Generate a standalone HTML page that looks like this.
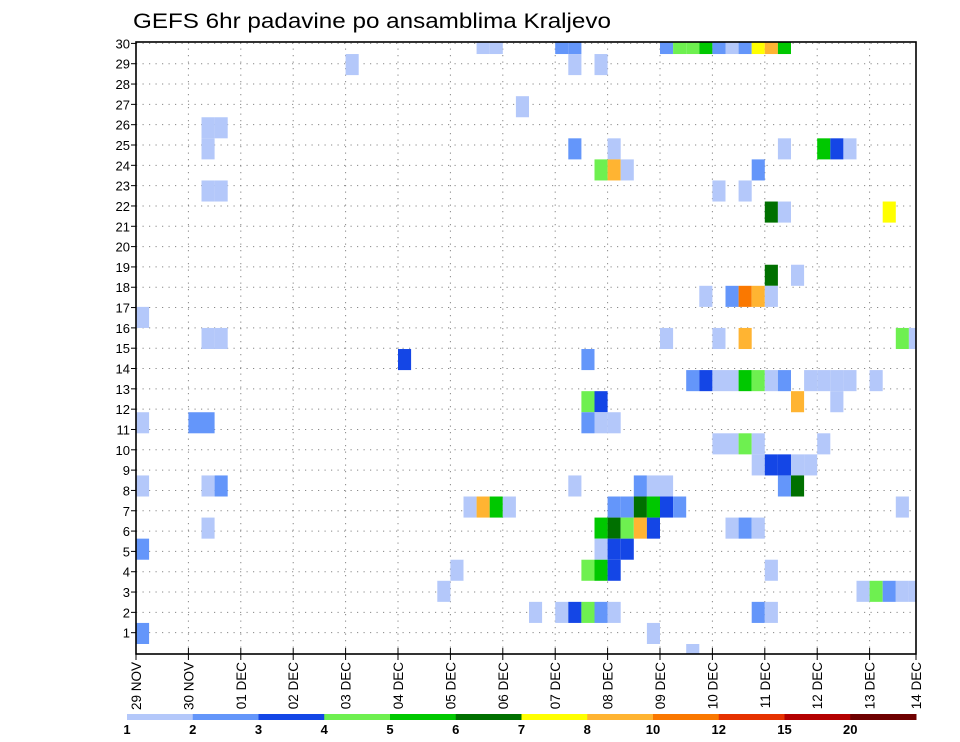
<!DOCTYPE html>
<html><head><meta charset="utf-8"><style>
html,body{margin:0;padding:0;background:#fff;}
svg{display:block;font-family:"Liberation Sans",sans-serif;}
</style></head><body>
<svg id="chart" width="960" height="742" viewBox="0 0 960 742">
<text x="133" y="28" font-size="21" textLength="478" lengthAdjust="spacingAndGlyphs" fill="#000">GEFS 6hr padavine po ansamblima Kraljevo</text>
<g id="grid"></g>
<g id="cells"></g>
<g id="axes"></g>
<g id="legend"></g>
</svg>
<script>
// data: each cell = time step index (6h), member row, bin index
const cellStep   = [26,27,32,33,40,41,42,43,44,45,46,47,48,49, 16,33,35, 29, 5,6, 5,33,36,49,52,53,54, 35,36,37,47, 5,6,44,46, 48,49,57, 48,50, 43,45,46,47,48, 0, 5,6,40,44,46,58,59, 20,34, 42,43,44,45,46,47,48,49,51,52,53,54,56, 34,35,50,53, 0,4,5,34,35,36, 44,45,46,47,52, 47,48,49,50,51, 0,5,6,33,38,39,40,49,50, 25,26,27,28,36,37,38,39,40,41,58, 5,35,36,37,38,39,45,46,47, 0,35,36,37, 24,34,35,36,48, 23,55,56,57,58,59, 30,32,33,34,35,36,47,48, 0,39, 42];
const cellMember = [29,29,29,29,29,29,29,29,29,29,29,29,29,29, 28,28,28, 26, 25,25, 24,24,24,24,24,24,24, 23,23,23,23, 22,22,22,22, 21,21,21, 18,18, 17,17,17,17,17, 16, 15,15,15,15,15,15,15, 14,14, 13,13,13,13,13,13,13,13,13,13,13,13,13, 12,12,12,12, 11,11,11,11,11,11, 10,10,10,10,10, 9,9,9,9,9, 8,8,8,8,8,8,8,8,8, 7,7,7,7,7,7,7,7,7,7,7, 6,6,6,6,6,6,6,6,6, 5,5,5,5, 4,4,4,4,4, 3,3,3,3,3,3, 2,2,2,2,2,2,2,2, 1,1, 0];
const cellBin    = [0,0,1,1,1,3,3,4,1,0,1,6,7,4, 0,0,0, 0, 0,0, 0,1,0,0,4,2,0, 3,7,0,1, 0,0,0,0, 5,0,6, 5,0, 0,1,8,7,0, 0, 0,0,0,0,7,3,0, 2,1, 1,2,0,0,4,3,0,1,0,0,0,0,0, 3,2,7,0, 0,1,1,1,0,0, 0,0,3,0,0, 0,2,2,0,0, 0,0,1,0,1,0,0,1,5, 0,7,4,0,1,1,5,4,2,1,0, 0,4,5,3,7,2,0,1,0, 1,0,2,2, 0,3,4,2,0, 0,0,3,1,0,0, 0,0,2,3,1,0,1,0, 1,0, 0];
const binLabels  = ["1","2","3","4","5","6","7","8","10","12","15","20"];
const binColors  = ["#b4c8fa","#6496fa","#1446e6","#6ef050","#00c800","#007000","#ffff00","#ffb432","#fa7800","#e63200","#b40000","#6e0000"];
const dayLabels  = ["29 NOV","30 NOV","01 DEC","02 DEC","03 DEC","04 DEC","05 DEC","06 DEC","07 DEC","08 DEC","09 DEC","10 DEC","11 DEC","12 DEC","13 DEC","14 DEC"];
const yTicks     = [1,2,3,4,5,6,7,8,9,10,11,12,13,14,15,16,17,18,19,20,21,22,23,24,25,26,27,28,29,30];

const NS="http://www.w3.org/2000/svg";
const X0=136,X1=916,Y0=42,Y1=654;
const dayW=52.4, stepW=dayW/4;
const xDay=d=>Math.min(X0+d*dayW,X1);
const xStep=i=>X0+i*stepW;
const yLab=r=>653-20.32*r;
const cellH=21.07;
const yCellTop=m=>644-cellH*m;
function mk(tag,attrs,parent){const e=document.createElementNS(NS,tag);for(const k in attrs)e.setAttribute(k,attrs[k]);parent.appendChild(e);return e;}

const grid=document.getElementById('grid');
yTicks.forEach(r=>{
  const l=mk('line',{x1:X0,x2:X1,y1:yLab(r),y2:yLab(r),stroke:'#888','stroke-width':1,'stroke-dasharray':'1.2,5.3'},grid);
  
  
});
dayLabels.forEach((d,k)=>{
  const l=mk('line',{x1:xDay(k),x2:xDay(k),y1:Y0,y2:Y1,stroke:'#888','stroke-width':1,'stroke-dasharray':'1.2,5.3'},grid);
  
  
});

const cells=document.getElementById('cells');
const defs=mk('defs',{},document.getElementById('chart'));
const cp=mk('clipPath',{id:'plotclip'},defs);
mk('rect',{x:X0,y:Y0,width:X1-X0,height:Y1-Y0},cp);
cells.setAttribute('clip-path','url(#plotclip)');
cellStep.forEach((s,j)=>{
  const r=mk('rect',{x:xStep(s).toFixed(2),y:yCellTop(cellMember[j]).toFixed(2),width:stepW.toFixed(2),height:cellH,fill:binColors[cellBin[j]]},cells);
  
  
});

const axes=document.getElementById('axes');
const frame=mk('rect',{x:X0,y:Y0,width:X1-X0,height:Y1-Y0,fill:'none',stroke:'#000','stroke-width':1.6},axes);


yTicks.forEach(r=>{
  mk('line',{x1:X0-5,x2:X0,y1:yLab(r),y2:yLab(r),stroke:'#000','stroke-width':1},axes);
  const t=mk('text',{x:X0-6,y:yLab(r)+5,'font-size':13,'text-anchor':'end',fill:'#000'},axes);
  t.textContent=r;
  
  
});
dayLabels.forEach((d,k)=>{
  const x=xDay(k);
  mk('line',{x1:x,x2:x,y1:Y1-6,y2:Y1+6,stroke:'#000','stroke-width':1},axes);
  const t=mk('text',{x:0,y:0,'font-size':13.5,'text-anchor':'end',fill:'#000',transform:`translate(${x+5},${Y1+8}) rotate(-90)`},axes);
  t.textContent=d;
  
  
});

const leg=document.getElementById('legend');
const LX0=127,LX1=916,segW=(LX1-LX0)/binColors.length;
binColors.forEach((c,k)=>{
  const r=mk('rect',{x:(LX0+k*segW).toFixed(2),y:714,width:(segW+0.5).toFixed(2),height:6,fill:c},leg);
  
  
  const t=mk('text',{x:(LX0+k*segW).toFixed(2),y:734,'font-size':13,'font-weight':'bold','text-anchor':'middle',fill:'#000'},leg);
  t.textContent=binLabels[k];
  
  
});
</script>
</body></html>
